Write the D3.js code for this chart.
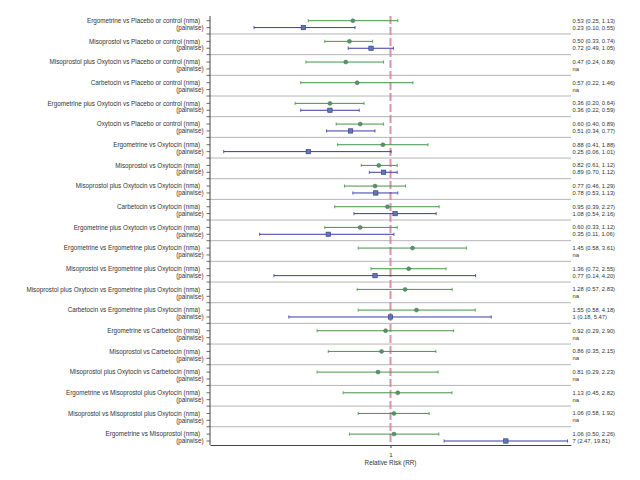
<!DOCTYPE html>
<html>
<head>
<meta charset="utf-8">
<script src="https://cdn.jsdelivr.net/npm/d3@7/dist/d3.min.js"></script>
<style>
  html, body { margin: 0; padding: 0; background: #fff; }
  svg { display: block; font-family: "Liberation Sans", Arial, sans-serif; }
</style>
</head>
<body>
<svg id="chart" width="640" height="480"></svg>
<script>
// ---------- data ----------
const comparisons = [
  "Ergometrine vs Placebo or control",
  "Misoprostol vs Placebo or control",
  "Misoprostol plus Oxytocin vs Placebo or control",
  "Carbetocin vs Placebo or control",
  "Ergometrine plus Oxytocin vs Placebo or control",
  "Oxytocin vs Placebo or control",
  "Ergometrine vs Oxytocin",
  "Misoprostol vs Oxytocin",
  "Misoprostol plus Oxytocin vs Oxytocin",
  "Carbetocin vs Oxytocin",
  "Ergometrine plus Oxytocin vs Oxytocin",
  "Ergometrine vs Ergometrine plus Oxytocin",
  "Misoprostol vs Ergometrine plus Oxytocin",
  "Misoprostol plus Oxytocin vs Ergometrine plus Oxytocin",
  "Carbetocin vs Ergometrine plus Oxytocin",
  "Ergometrine vs Carbetocin",
  "Misoprostol vs Carbetocin",
  "Misoprostol plus Oxytocin vs Carbetocin",
  "Ergometrine vs Misoprostol plus Oxytocin",
  "Misoprostol vs Misoprostol plus Oxytocin",
  "Ergometrine vs Misoprostol"
];
const nmaEst   = [0.53, 0.50, 0.47, 0.57, 0.36, 0.60, 0.88, 0.82, 0.77, 0.95, 0.60, 1.45, 1.36, 1.28, 1.55, 0.92, 0.86, 0.81, 1.13, 1.06, 1.06];
const nmaLow   = [0.25, 0.33, 0.24, 0.22, 0.20, 0.40, 0.41, 0.61, 0.46, 0.39, 0.33, 0.58, 0.72, 0.57, 0.58, 0.29, 0.35, 0.29, 0.45, 0.58, 0.50];
const nmaHigh  = [1.13, 0.74, 0.89, 1.46, 0.64, 0.89, 1.88, 1.12, 1.29, 2.27, 1.12, 3.61, 2.55, 2.83, 4.18, 2.90, 2.15, 2.23, 2.82, 1.92, 2.26];
const pwEst    = [0.23, 0.72, null, null, 0.36, 0.51, 0.25, 0.89, 0.78, 1.08, 0.35, null, 0.77, null, 1, null, null, null, null, null, 7];
const pwLow    = [0.10, 0.49, null, null, 0.22, 0.34, 0.06, 0.70, 0.53, 0.54, 0.11, null, 0.14, null, 0.18, null, null, null, null, null, 2.47];
const pwHigh   = [0.55, 1.05, null, null, 0.59, 0.77, 1.01, 1.12, 1.13, 2.16, 1.06, null, 4.20, null, 5.47, null, null, null, null, null, 19.81];
const xTicks   = [1];
const xTitle   = "Relative Risk (RR)";

// ---------- layout ----------
const pLeft = 210, pRight = 571, pTop = 16, pBottom = 445;
const svg = d3.select("#chart");

const x = d3.scaleLog().domain([1 / 21, 21]).range([pLeft, pRight]);
// slot index: 3 slots per comparison (nma, pairwise, separator)
const y = d3.scaleLinear().domain([0, 61]).range([20.7, 441]);

const fmt = v => Number.isInteger(v) ? String(v) : v.toFixed(2);
const rows = comparisons.map((c, i) => ({
  i, c,
  nma: { est: nmaEst[i], lo: nmaLow[i], hi: nmaHigh[i] },
  pw: pwEst[i] == null ? null : { est: pwEst[i], lo: pwLow[i], hi: pwHigh[i] }
}));

const green = "#469446", blue = "#3a3aa8", gray = "#444";

// separators
svg.append("g").selectAll("line").data(rows.slice(0, -1)).join("line")
  .attr("x1", pLeft).attr("x2", pRight)
  .attr("y1", d => y(3 * d.i + 1.93)).attr("y2", d => y(3 * d.i + 1.93))
  .attr("stroke", "#b4b4b4").attr("stroke-width", 1);

// reference line at RR = 1
svg.append("line")
  .attr("x1", x(1)).attr("x2", x(1)).attr("y1", pTop).attr("y2", pBottom)
  .attr("stroke", "#d77f9c").attr("stroke-width", 2).attr("stroke-dasharray", "8,3")
  .attr("opacity", 0.85);

// left axis ticks
const tickSlots = [];
rows.forEach(d => { tickSlots.push(3 * d.i, 3 * d.i + 1); if (d.i < rows.length - 1) tickSlots.push(3 * d.i + 1.93); });
svg.append("g").selectAll("line").data(tickSlots).join("line")
  .attr("x1", pLeft - 3.5).attr("x2", pLeft)
  .attr("y1", d => y(d)).attr("y2", d => y(d))
  .attr("stroke", gray).attr("stroke-width", 0.8);

// axes lines
svg.append("line").attr("x1", pLeft).attr("x2", pLeft).attr("y1", pTop).attr("y2", pBottom)
  .attr("stroke", gray).attr("stroke-width", 1);
const xAxis = d3.axisBottom(x).tickValues(xTicks).tickFormat(d3.format("d")).tickSize(3).tickSizeOuter(0);
const gx = svg.append("g").attr("transform", `translate(0,${pBottom})`).call(xAxis);
gx.select(".domain").attr("stroke", gray);
gx.selectAll(".tick line").attr("stroke", gray);
gx.selectAll(".tick text").attr("font-size", 6.2).attr("fill", "#333").attr("dy", "0.9em")
  .attr("font-family", "Liberation Sans, Arial, sans-serif");
svg.append("text").attr("x", x(1)).attr("y", pBottom + 20).attr("text-anchor", "middle")
  .attr("font-size", 6.3).attr("fill", "#333").text(xTitle);

// row labels
const lab = svg.append("g").attr("font-size", 6.3).attr("fill", "#333");
lab.selectAll("text.nma").data(rows).join("text").attr("class", "nma")
  .attr("x", 200).attr("y", d => y(3 * d.i)).attr("dy", "0.35em").attr("text-anchor", "end")
  .text(d => d.c + " (nma)");
lab.selectAll("text.pw").data(rows).join("text").attr("class", "pw")
  .attr("x", 203.5).attr("y", d => y(3 * d.i + 1)).attr("dy", "0.35em").attr("text-anchor", "end")
  .text("(pairwise)");

// values text
const val = svg.append("g").attr("font-size", 5.8).attr("fill", "#333");
val.selectAll("text.nma").data(rows).join("text").attr("class", "nma")
  .attr("x", 572.5).attr("y", d => y(3 * d.i)).attr("dy", "0.35em")
  .text(d => `${fmt(d.nma.est)} (${fmt(d.nma.lo)}, ${fmt(d.nma.hi)})`);
val.selectAll("text.pw").data(rows).join("text").attr("class", "pw")
  .attr("x", 572.5).attr("y", d => y(3 * d.i + 1)).attr("dy", "0.35em")
  .text(d => d.pw ? `${fmt(d.pw.est)} (${fmt(d.pw.lo)}, ${fmt(d.pw.hi)})` : "na");

// CI bars
function drawCI(key, slotOff, color) {
  const data = rows.filter(d => d[key]);
  const g = svg.append("g");
  g.selectAll("line.ci").data(data).join("line").attr("class", "ci")
    .attr("x1", d => x(d[key].lo)).attr("x2", d => x(d[key].hi))
    .attr("y1", d => y(3 * d.i + slotOff)).attr("y2", d => y(3 * d.i + slotOff))
    .attr("stroke", color).attr("stroke-width", 1);
  ["lo", "hi"].forEach(k => {
    g.selectAll("line.cap" + k).data(data).join("line").attr("class", "cap" + k)
      .attr("x1", d => x(d[key][k])).attr("x2", d => x(d[key][k]))
      .attr("y1", d => y(3 * d.i + slotOff) - 1.6).attr("y2", d => y(3 * d.i + slotOff) + 1.6)
      .attr("stroke", color).attr("stroke-width", 0.8);
  });
  return g;
}
const gN = drawCI("nma", 0, green);
gN.selectAll("circle").data(rows).join("circle")
  .attr("cx", d => x(d.nma.est)).attr("cy", d => y(3 * d.i)).attr("r", 2)
  .attr("fill", "#5d8f6c").attr("stroke", "#3f7a52").attr("stroke-width", 0.5);
const gP = drawCI("pw", 1, blue);
gP.selectAll("rect").data(rows.filter(d => d.pw)).join("rect")
  .attr("x", d => x(d.pw.est) - 2.2).attr("y", d => y(3 * d.i + 1) - 2.2)
  .attr("width", 4.4).attr("height", 4.4)
  .attr("fill", "#5b79b3").attr("stroke", "#35357f").attr("stroke-width", 0.6);
</script>
</body>
</html>
